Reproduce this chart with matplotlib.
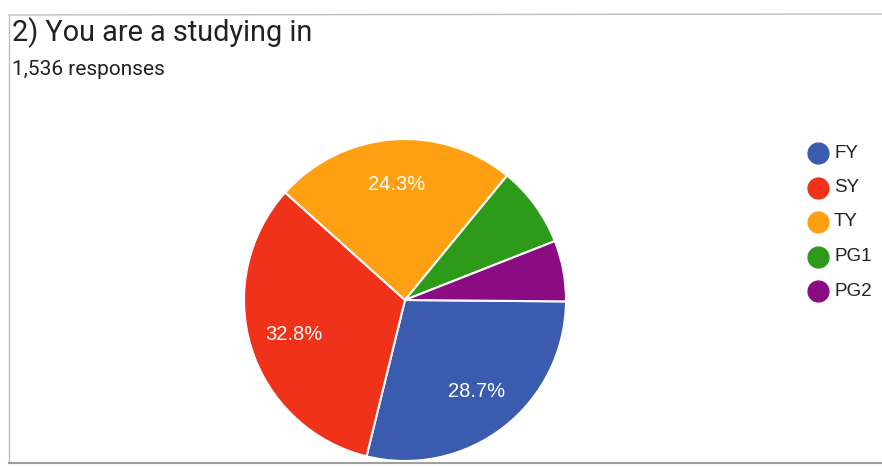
import matplotlib.pyplot as plt
from matplotlib.lines import Line2D

# Data
labels = ['FY', 'SY', 'TY', 'PG1', 'PG2']
shares = [28.7, 32.8, 24.3, 8.1, 6.1]
colors = ['#3b5bae', '#f0321a', '#ffa012', '#2e9a1a', '#8a0c82']
title = '2) You are a studying in'
subtitle = '1,536 responses'

plt.rcParams['font.family'] = ['Roboto', 'DejaVu Sans']

fig = plt.figure(figsize=(8.82, 4.68), dpi=100)

# card border
fig.add_artist(Line2D([9 / 882, 9 / 882], [0.01, 1 - 15 / 468], color='#bdbdbd', lw=1))
fig.add_artist(Line2D([9 / 882, 1.0], [1 - 15 / 468, 1 - 14 / 468], color='#bdbdbd', lw=1))
fig.add_artist(Line2D([9 / 882, 1.0], [1 - 463 / 468, 1 - 463 / 468], color='#9e9e9e', lw=1.5))

fig.text(12 / 882, 1 - 41 / 468, title, fontsize=20.8, color='#202124', ha='left', va='baseline')
fig.text(12 / 882, 1 - 75 / 468, subtitle, fontsize=15, color='#202124', ha='left', va='baseline')

# pie axes: centre (405, 300), radius ~161 px
r = 161
ax = fig.add_axes([(405 - r) / 882, (468 - 300 - r) / 468, 2 * r / 882, 2 * r / 468])


def fmt(p):
    return f'{p:.1f}%' if p > 15 else ''


wedges, _, autotexts = ax.pie(
    shares, colors=colors, startangle=-0.5, counterclock=False,
    autopct=fmt, pctdistance=0.72,
    wedgeprops=dict(edgecolor='white', linewidth=1.5),
    textprops=dict(color='white', fontsize=14.5, family=['Liberation Sans', 'DejaVu Sans']),
)
ax.set_aspect('equal')
ax.set_xlim(-1, 1)
ax.set_ylim(-1, 1)

# legend
for i, (lab, col) in enumerate(zip(labels, colors)):
    y = 1 - (153 + i * 34.5) / 468
    fig.add_artist(Line2D([818 / 882], [y], marker='o', markersize=15,
                          color=col, linestyle='none'))
    fig.text(834 / 882, y, lab, fontsize=13.5, color='#222222', ha='left', va='center',
             family=['Liberation Sans', 'DejaVu Sans'])

plt.savefig('out.png', dpi=100)
